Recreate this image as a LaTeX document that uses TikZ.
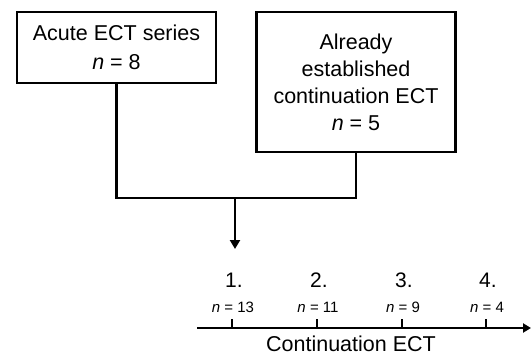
\documentclass[tikz,border=0pt]{standalone}
\usepackage{fontspec}
\setmainfont{Liberation Sans}
\usetikzlibrary{arrows.meta}
\begin{document}
\begin{tikzpicture}[x=1pt,y=-1pt,
  box/.style={draw,line width=2.6pt,minimum width=199pt,align=center,inner sep=0pt,
    font=\fontsize{21.5}{27}\selectfont},
  conn/.style={line width=2.6pt},
  tick/.style={line width=2.4pt},
  numlab/.style={font=\fontsize{21}{24}\selectfont,inner sep=0pt},
  nlab/.style={font=\fontsize{15}{18}\selectfont,inner sep=0pt},
  axlab/.style={font=\fontsize{21.5}{26}\selectfont,inner sep=0pt}]
\useasboundingbox (0,0) rectangle (531,356);
\node[box,minimum height=71pt,font=\fontsize{21.5}{29}\selectfont] (acute) at (116.5,47.5) {Acute ECT series\\\textit{n} = 8};
\node[box,minimum height=140pt] (already) at (356,82) {Already\\established\\continuation ECT\\\textit{n} = 5};
\coordinate (jl) at (116.5,198);
\coordinate (jr) at (356,198);
\coordinate (jm) at (235,198);
\coordinate (tip) at (235,249);
\draw[conn,line cap=rect] (acute.south) -- (jl) -- (jr) -- (already.south);
\draw[conn,-{Triangle[length=9pt,width=10pt]}] (jm) -- (tip);
\coordinate (axs) at (197,328);
\coordinate (axe) at (531,328);
\draw[conn,-{Triangle[length=8pt,width=9pt]}] (axs) -- (axe);
\foreach \i/\x/\n in {1/232/13,2/317/11,3/402/9,4/486/4}{
  \coordinate (t\i) at (\x,328);
  \coordinate (tt\i) at (\x,319);
  \draw[tick] (t\i) -- (tt\i);
  \node[numlab] (l\i) at (\x+2,280.5) {\i.};
  \node[nlab] (nl\i) at (\x+1,307.5) {\textit{n} = \n};
}
\node[axlab] (axl) at (351,344) {Continuation ECT};
\end{tikzpicture}
\end{document}
